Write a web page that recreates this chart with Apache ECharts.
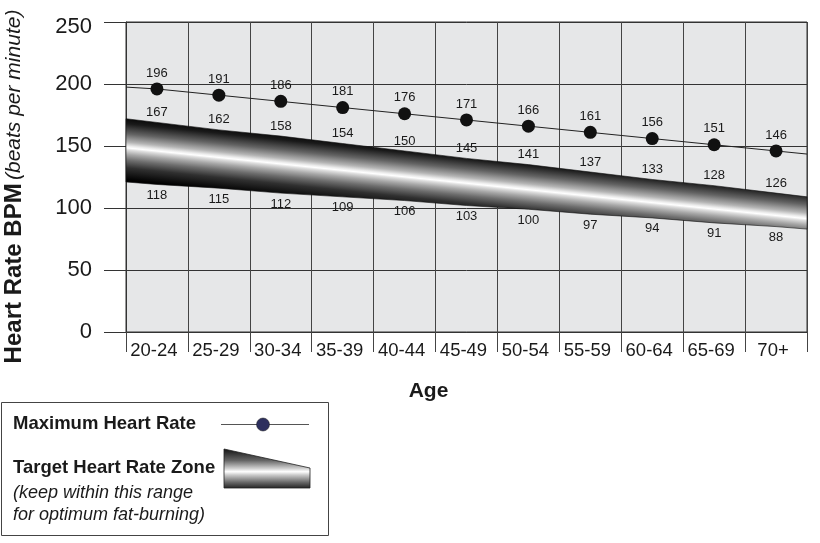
<!DOCTYPE html>
<html>
<head>
<meta charset="utf-8">
<script src="https://cdn.jsdelivr.net/npm/echarts@6/dist/echarts.min.js"></script>
<style>
  html, body { margin: 0; padding: 0; background: #fff; }
  #chart { width: 820px; height: 543px; }
</style>
</head>
<body>
<div id="chart"></div>
<script>
// ---- data ----
const categories = ['20-24', '25-29', '30-34', '35-39', '40-44', '45-49', '50-54', '55-59', '60-64', '65-69', '70+'];
const maxHeartRate = [196, 191, 186, 181, 176, 171, 166, 161, 156, 151, 146];
const zoneUpper = [167, 162, 158, 154, 150, 145, 141, 137, 133, 128, 126];
const zoneLower = [118, 115, 112, 109, 106, 103, 100, 97, 94, 91, 88];
// drawn band edges (value at each category centre, as drawn in the picture)
const bandTopEdge = [169, 163, 158, 152, 146, 140, 135, 129, 123, 118, 112];
const bandBottomEdge = [119, 116, 112, 109, 106, 102, 99, 95, 92, 88, 85];
// band and max-line values at the left / right plot edges
const bandTopEnds = [172, 109];
const bandBottomEnds = [121, 83];
const maxLineEnds = [197.5, 143.5];
const yTicks = [0, 50, 100, 150, 200, 250];

const FONT = 'Liberation Sans, Arial, Helvetica, sans-serif';
const chart = echarts.init(document.getElementById('chart'), null, { renderer: 'canvas' });
const nCat = categories.length;

const maxLineData = [{ value: [0, maxLineEnds[0]], symbol: 'none', label: { show: false } }]
  .concat(maxHeartRate.map((v, i) => ({ value: [i + 0.5, v] })))
  .concat([{ value: [nCat, maxLineEnds[1]], symbol: 'none', label: { show: false } }]);

function renderBand(params, api) {
  const top = [[0, bandTopEnds[0]]].concat(bandTopEdge.map((v, i) => [i + 0.5, v])).concat([[nCat, bandTopEnds[1]]]);
  const bot = [[0, bandBottomEnds[0]]].concat(bandBottomEdge.map((v, i) => [i + 0.5, v])).concat([[nCat, bandBottomEnds[1]]]);
  const topPx = top.map(p => api.coord(p));
  const botPx = bot.map(p => api.coord(p));
  const pts = topPx.concat(botPx.slice().reverse());
  const tl = topPx[0], tr = topPx[topPx.length - 1];
  const bl = botPx[0], br = botPx[botPx.length - 1];
  const lerp = (a, b, t) => [a[0] + (b[0] - a[0]) * t, a[1] + (b[1] - a[1]) * t];
  const hl = lerp(tl, bl, 0.46), hr = lerp(tr, br, 0.68);
  const dx = hr[0] - hl[0], dy = hr[1] - hl[1];
  const len = Math.sqrt(dx * dx + dy * dy);
  const n = [-dy / len, dx / len];
  const c = [(hl[0] + hr[0]) / 2, (hl[1] + hr[1]) / 2];
  const h = 32;
  const grad = new echarts.graphic.LinearGradient(
    c[0] - n[0] * h, c[1] - n[1] * h, c[0] + n[0] * h, c[1] + n[1] * h,
    [
      { offset: 0, color: '#000' },
      { offset: 0.125, color: '#1a1a1a' },
      { offset: 0.28, color: '#636363' },
      { offset: 0.41, color: '#b4b4b4' },
      { offset: 0.47, color: '#ececec' },
      { offset: 0.5, color: '#ffffff' },
      { offset: 0.53, color: '#dedede' },
      { offset: 0.6, color: '#a8a8a8' },
      { offset: 0.69, color: '#6e6e6e' },
      { offset: 0.81, color: '#303030' },
      { offset: 1, color: '#000' }
    ], true);
  return {
    type: 'polygon',
    shape: { points: pts },
    style: { fill: grad, stroke: '#111', lineWidth: 0.6 }
  };
}

const labelStyle = {
  show: true, fontFamily: FONT, fontSize: 13, fontWeight: 'normal', color: '#1a1a1a',
  textBorderWidth: 0, opacity: 1
};

const option = {
  animation: false,
  backgroundColor: '#ffffff',
  textStyle: { fontFamily: FONT },
  grid: {
    left: 126, right: 13, top: 22, bottom: 211,
    containLabel: false, outerBoundsMode: 'none',
    show: true, backgroundColor: '#e6e7e8', borderColor: '#333', borderWidth: 1
  },
  xAxis: [
    {
      type: 'category',
      data: categories,
      boundaryGap: true,
      name: 'Age',
      nameLocation: 'middle',
      nameGap: 49,
      nameTextStyle: { fontFamily: FONT, fontSize: 21, fontWeight: 'bold', color: '#1a1a1a', padding: [0, 76, 0, 0] },
      axisLine: { show: true, lineStyle: { color: '#333', width: 1 } },
      axisTick: { show: true, length: 20, interval: 0, alignWithLabel: false, lineStyle: { color: '#444', width: 1 } },
      axisLabel: { interval: 0, fontFamily: FONT, fontSize: 18.5, color: '#1a1a1a', margin: 9, padding: [0, 6, 0, 0] },
      splitLine: { show: true, interval: 0, lineStyle: { color: '#444', width: 1 } }
    },
    {
      type: 'value', min: 0, max: nCat, show: false,
      splitLine: { show: false }
    }
  ],
  yAxis: {
    type: 'value',
    min: yTicks[0], max: yTicks[yTicks.length - 1], interval: yTicks[1] - yTicks[0],
    name: '{b|Heart Rate BPM} {i|(beats per minute)}',
    nameLocation: 'middle',
    nameGap: 100,
    nameRotate: 90,
    nameTextStyle: {
      padding: [0, 19, 0, 0],
      rich: {
        b: { fontFamily: FONT, fontSize: 24, fontWeight: 'bold', color: '#1a1a1a' },
        i: { fontFamily: FONT, fontSize: 21, fontStyle: 'italic', color: '#1a1a1a' }
      }
    },
    axisLine: { show: true, lineStyle: { color: '#333', width: 1 } },
    axisTick: { show: true, length: 22, lineStyle: { color: '#333', width: 1 } },
    axisLabel: {
      fontFamily: FONT, fontSize: 22, color: '#1a1a1a', margin: 34,
      formatter: v => (v === yTicks[yTicks.length - 1] ? '{t|' + v + '}' : String(v)),
      rich: { t: { fontFamily: FONT, fontSize: 22, color: '#1a1a1a', padding: [10, 0, 0, 0] } }
    },
    splitLine: { show: true, lineStyle: { color: '#333', width: 1 } }
  },
  series: [
    {
      type: 'custom',
      name: 'Target Heart Rate Zone',
      xAxisIndex: 1,
      renderItem: renderBand,
      data: [[0, 0]],
      z: 2,
      silent: true
    },
    {
      type: 'line',
      name: 'Maximum Heart Rate',
      xAxisIndex: 1,
      data: maxLineData,
      symbol: 'circle',
      symbolSize: 13,
      itemStyle: { color: '#111' },
      lineStyle: { color: '#222', width: 1 },
      label: Object.assign({}, labelStyle, { position: 'top', distance: 3, formatter: p => String(p.value[1]) }),
      z: 4,
      silent: true
    },
    {
      type: 'scatter',
      name: 'zone upper labels',
      xAxisIndex: 1,
      data: bandTopEdge.map((v, i) => [i + 0.5, v]),
      symbolSize: 1,
      itemStyle: { color: 'rgba(0,0,0,0)' },
      label: Object.assign({}, labelStyle, { position: 'top', distance: 3, formatter: p => String(zoneUpper[p.dataIndex]) }),
      z: 5,
      silent: true
    },
    {
      type: 'scatter',
      name: 'zone lower labels',
      xAxisIndex: 1,
      data: bandBottomEdge.map((v, i) => [i + 0.5, v]),
      symbolSize: 1,
      itemStyle: { color: 'rgba(0,0,0,0)' },
      label: Object.assign({}, labelStyle, { position: 'bottom', distance: 4, formatter: p => String(zoneLower[p.dataIndex]) }),
      z: 5,
      silent: true
    }
  ],
  graphic: [
    { type: 'rect', shape: { x: 1.5, y: 402.5, width: 327, height: 133 },
      style: { fill: '#fff', stroke: '#444', lineWidth: 1 } },
    { type: 'text', style: { text: 'Maximum Heart Rate', x: 13, y: 424, font: 'bold 18.5px ' + FONT, fill: '#1a1a1a', verticalAlign: 'middle' } },
    { type: 'line', shape: { x1: 221, y1: 424.5, x2: 309, y2: 424.5 }, style: { stroke: '#555', lineWidth: 1 } },
    { type: 'circle', shape: { cx: 263, cy: 424.5, r: 6.5 }, style: { fill: '#2d2f5e', stroke: '#1a1a1a', lineWidth: 0.5 } },
    { type: 'text', style: { text: 'Target Heart Rate Zone', x: 13, y: 468, font: 'bold 18.5px ' + FONT, fill: '#1a1a1a', verticalAlign: 'middle' } },
    { type: 'text', style: { text: '(keep within this range', x: 13, y: 492.5, font: 'italic 18px ' + FONT, fill: '#1a1a1a', verticalAlign: 'middle' } },
    { type: 'text', style: { text: 'for optimum fat-burning)', x: 13, y: 515, font: 'italic 18px ' + FONT, fill: '#1a1a1a', verticalAlign: 'middle' } },
    { type: 'polygon', shape: { points: [[224, 449], [310, 468], [310, 488], [224, 488]] },
      style: {
        stroke: '#222', lineWidth: 0.8,
        fill: new echarts.graphic.LinearGradient(0, 0, 0, 1, [
          { offset: 0, color: '#111' },
          { offset: 0.3, color: '#666' },
          { offset: 0.5, color: '#d0d0d0' },
          { offset: 0.58, color: '#fff' },
          { offset: 0.66, color: '#ccc' },
          { offset: 0.85, color: '#666' },
          { offset: 1, color: '#222' }
        ])
      } }
  ]
};
chart.setOption(option);
</script>
</body>
</html>
